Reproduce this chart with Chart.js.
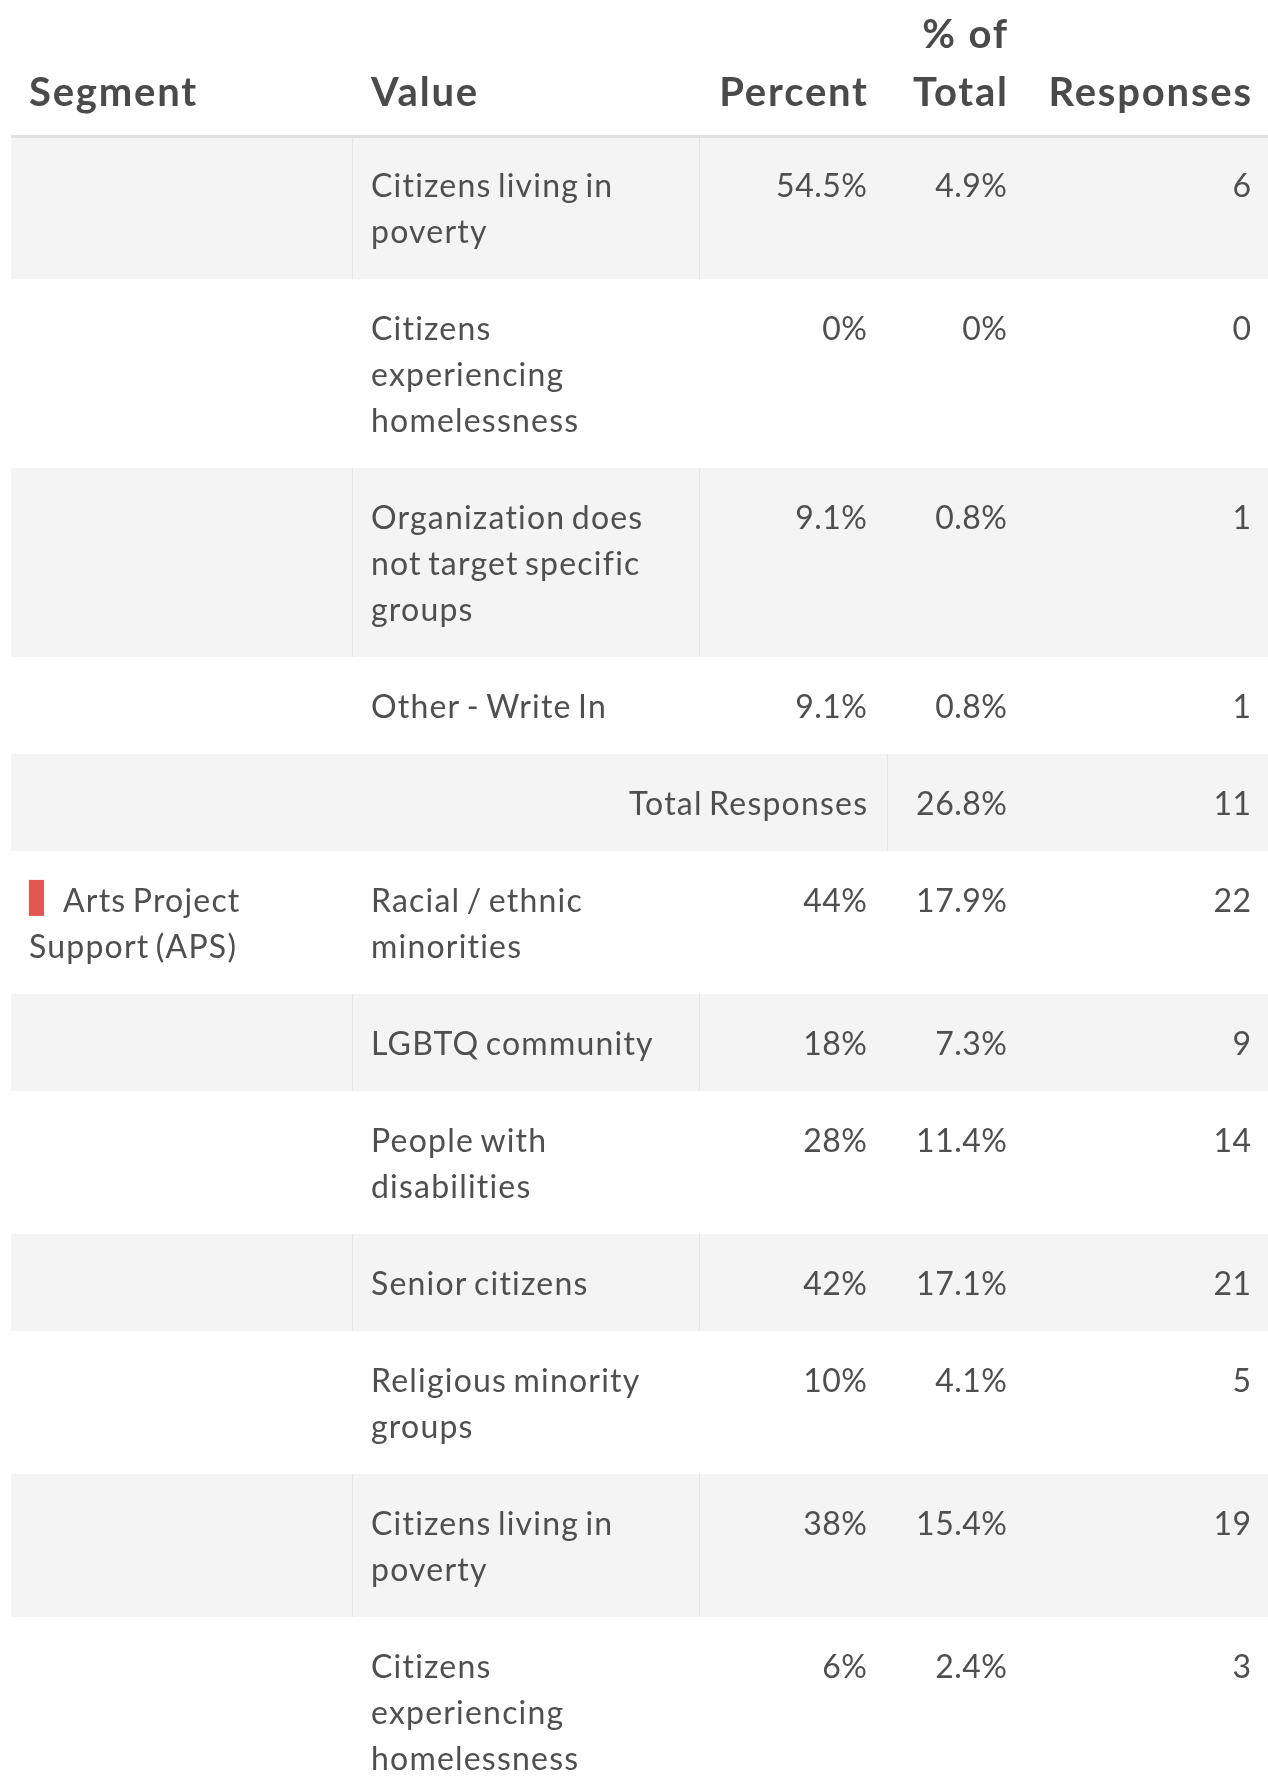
<!DOCTYPE html>
<html>
<head>
<meta charset="utf-8">
<script src="https://cdn.jsdelivr.net/npm/chart.js@4.4.1/dist/chart.umd.min.js"></script>
<style>
html,body{margin:0;padding:0;background:#ffffff;overflow:hidden;}
canvas{display:block;}
</style>
</head>
<body>
<canvas id="table" width="1268" height="1777"></canvas>
<script>
// ---------------- DATA ----------------
const headers = [["Segment"], ["Value"], ["Percent"], ["% of", "Total"], ["Responses"]];

const rowKinds = ["item", "item", "item", "item", "total",
                  "item", "item", "item", "item", "item", "item", "item"];

const segments = [[], [], [], [], [],
                  ["Arts Project", "Support (APS)"], [], [], [], [], [], []];

const segmentColors = [null, null, null, null, null,
                       "#e0584f", null, null, null, null, null, null];

const valueLabels = [
  ["Citizens living in", "poverty"],
  ["Citizens", "experiencing", "homelessness"],
  ["Organization does", "not target specific", "groups"],
  ["Other - Write In"],
  ["Total Responses"],
  ["Racial / ethnic", "minorities"],
  ["LGBTQ community"],
  ["People with", "disabilities"],
  ["Senior citizens"],
  ["Religious minority", "groups"],
  ["Citizens living in", "poverty"],
  ["Citizens", "experiencing", "homelessness"]
];

const percents   = ["54.5%", "0%", "9.1%", "9.1%", "", "44%", "18%", "28%", "42%", "10%", "38%", "6%"];
const pctOfTotal = ["4.9%", "0%", "0.8%", "0.8%", "26.8%", "17.9%", "7.3%", "11.4%", "17.1%", "4.1%", "15.4%", "2.4%"];
const responses  = [6, 0, 1, 1, 11, 22, 9, 14, 21, 5, 19, 3];

// ---------------- LAYOUT / STYLE ----------------
const W = 1268, H = 1777;
const colEdges = [11, 352, 699, 887, 1027, 1268];
const BODY_FONT = "32px Lato";
const HEAD_FONT = "bold 40px Lato";
const BODY_LS = 1.2;
const BODY_WS = -3;
const HEAD_LS = 1.8;
const NUM_LS = 0.5;
const TEXT_COLOR = "#4f4f4f";
const HEAD_COLOR = "#4a4a4a";
const STRIPE = "#f4f4f4";
const DIVIDER = "#e6e6e6";
const RULE = "#e0e0e0";
const LINE_H = 46;
const PAD_Y = 25.5;
const BASE_OFF = 35.4;
const TABLE_TOP = 136;

function setLS(ctx, v, ws) {
  if ("letterSpacing" in ctx) ctx.letterSpacing = v + "px";
  if ("wordSpacing" in ctx) ctx.wordSpacing = (ws || 0) + "px";
}

const tablePlugin = {
  id: "tablePlugin",
  beforeDatasetsDraw(chart) {
    const ctx = chart.ctx;
    const xs = chart.scales.x, ys = chart.scales.y;
    const px = v => xs.getPixelForValue(v);
    const py = v => ys.getPixelForValue(v);
    ctx.save();

    // rows
    let top = TABLE_TOP;
    valueLabels.forEach((vLines, r) => {
      const nLines = Math.max(vLines.length, segments[r].length, 1);
      const h = nLines * LINE_H + 2 * PAD_Y;
      const y0 = top, y1 = top + h;
      if (r % 2 === 0) {
        ctx.fillStyle = STRIPE;
        ctx.fillRect(px(colEdges[0]), py(y0), px(colEdges[5]) - px(colEdges[0]), py(y1) - py(y0));
        ctx.fillStyle = DIVIDER;
        const divs = rowKinds[r] === "total" ? [colEdges[3]] : [colEdges[1], colEdges[2]];
        divs.forEach(d => ctx.fillRect(px(d), py(y0), 1, py(y1) - py(y0)));
      }
      const base = y0 + PAD_Y + BASE_OFF;
      ctx.font = BODY_FONT;
      ctx.fillStyle = TEXT_COLOR;
      setLS(ctx, BODY_LS, BODY_WS);
      // segment column
      if (segments[r].length) {
        let tx = colEdges[0] + 18;
        if (segmentColors[r]) {
          ctx.fillStyle = segmentColors[r];
          ctx.fillRect(px(tx), py(base - 32), 15, py(base + 4) - py(base - 32));
          ctx.fillStyle = TEXT_COLOR;
        }
        ctx.textAlign = "left";
        segments[r].forEach((t, i) => {
          const x = i === 0 && segmentColors[r] ? tx + 34 : tx;
          ctx.fillText(t, px(x), py(base + i * LINE_H));
        });
      }
      if (rowKinds[r] === "total") {
        ctx.textAlign = "right";
        ctx.fillText(vLines[0], px(colEdges[3] - 20 + BODY_LS), py(base));
      } else {
        ctx.textAlign = "left";
        vLines.forEach((t, i) => ctx.fillText(t, px(colEdges[1] + 19), py(base + i * LINE_H)));
      }
      setLS(ctx, NUM_LS, 0);
      ctx.textAlign = "right";
      if (percents[r]) ctx.fillText(percents[r], px(colEdges[3] - 20 + NUM_LS), py(base));
      ctx.fillText(pctOfTotal[r], px(colEdges[4] - 20 + NUM_LS), py(base));
      ctx.fillText(String(responses[r]), px(colEdges[5] - 17 + NUM_LS), py(base));
      top = y1;
    });

    // header
    ctx.font = HEAD_FONT;
    ctx.fillStyle = HEAD_COLOR;
    ctx.textBaseline = "alphabetic";
    setLS(ctx, HEAD_LS, 0);
    const headBase = 106, headLine = 58;
    headers.forEach((lines, c) => {
      const n = lines.length;
      lines.forEach((t, i) => {
        const yb = headBase - (n - 1 - i) * headLine;
        if (c < 2) {
          ctx.textAlign = "left";
          ctx.fillText(t, px(colEdges[c] + (c === 0 ? 18 : 19)), py(yb));
        } else {
          ctx.textAlign = "right";
          ctx.fillText(t, px(colEdges[c + 1] - (c === 4 ? 17 : 20) + HEAD_LS), py(yb));
        }
      });
    });
    // header rule
    ctx.fillStyle = RULE;
    ctx.fillRect(px(colEdges[0]), py(135), px(colEdges[5]) - px(colEdges[0]), py(138) - py(135));
    ctx.restore();
  }
};

function draw() {
  new Chart(document.getElementById("table"), {
    type: "scatter",
    data: { datasets: [{ data: [] }] },
    options: {
      responsive: false,
      animation: false,
      devicePixelRatio: 1,
      layout: { padding: 0 },
      events: [],
      plugins: { legend: { display: false }, tooltip: { enabled: false } },
      scales: {
        x: { type: "linear", min: 0, max: W, display: false },
        y: { type: "linear", min: 0, max: H, reverse: true, display: false }
      }
    },
    plugins: [tablePlugin]
  });
}

Promise.all([
  document.fonts.load(BODY_FONT),
  document.fonts.load(HEAD_FONT)
]).then(draw, draw);
</script>
</body>
</html>
